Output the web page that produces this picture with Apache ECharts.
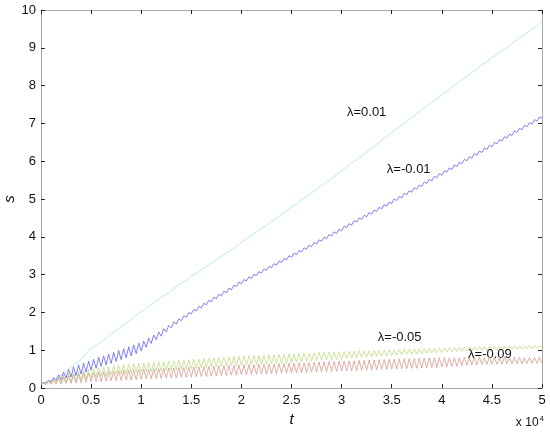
<!DOCTYPE html>
<html><head><meta charset="utf-8">
<script src="https://cdn.jsdelivr.net/npm/echarts@6/dist/echarts.min.js"></script>
<style>html,body{margin:0;padding:0;background:#fff}#c{width:550px;height:433px}</style>
</head><body><div id="c"></div>
<script>
// t in units of 10^4 (sample grid)
const tValues = [0,0.05,0.1,0.15,0.2,0.25,0.3,0.35,0.4,0.45,0.5,0.55,0.6,0.65,0.7,0.75,0.8,0.85,0.9,0.95,
1,1.05,1.1,1.15,1.2,1.25,1.3,1.35,1.4,1.45,1.5,1.55,1.6,1.65,1.7,1.75,1.8,1.85,1.9,1.95,
2,2.05,2.1,2.15,2.2,2.25,2.3,2.35,2.4,2.45,2.5,2.55,2.6,2.65,2.7,2.75,2.8,2.85,2.9,2.95,
3,3.05,3.1,3.15,3.2,3.25,3.3,3.35,3.4,3.45,3.5,3.55,3.6,3.65,3.7,3.75,3.8,3.85,3.9,3.95,
4,4.05,4.1,4.15,4.2,4.25,4.3,4.35,4.4,4.45,4.5,4.55,4.6,4.65,4.7,4.75,4.8,4.85,4.9,4.95,5];

// λ=0.01 (nearly smooth)
const sLam001 = [0.10,0.15,0.20,0.26,0.34,0.44,0.55,0.65,0.76,0.92,1.05,1.12,1.24,1.32,1.44,1.52,1.63,1.72,1.82,1.93,
2.02,2.10,2.22,2.30,2.40,2.48,2.58,2.68,2.77,2.85,2.96,3.03,3.13,3.22,3.30,3.40,3.48,3.58,3.66,3.76,
3.85,3.94,4.04,4.12,4.22,4.30,4.41,4.49,4.60,4.68,4.79,4.86,4.98,5.06,5.16,5.25,5.36,5.44,5.55,5.64,
5.75,5.84,5.95,6.04,6.15,6.24,6.35,6.44,6.55,6.65,6.76,6.85,6.96,7.05,7.16,7.25,7.36,7.45,7.56,7.65,
7.76,7.85,7.96,8.05,8.15,8.24,8.35,8.44,8.55,8.64,8.74,8.83,8.93,9.02,9.12,9.20,9.31,9.39,9.50,9.58,9.70];

// oscillating series: troughs at the grid t, peaks half-way between grid points
const sLamM001Low = [0.10,0.13,0.16,0.19,0.22,0.26,0.29,0.33,0.37,0.42,
0.47,0.52,0.57,0.61,0.65,0.70,0.75,0.80,0.85,0.91,
0.98,1.08,1.18,1.28,1.37,1.48,1.59,1.69,1.78,1.87,
1.96,2.04,2.12,2.20,2.28,2.36,2.44,2.52,2.60,2.68,
2.76,2.83,2.90,2.97,3.04,3.11,3.18,3.25,3.32,3.39,
3.46,3.53,3.60,3.67,3.74,3.81,3.88,3.95,4.02,4.09,
4.16,4.24,4.31,4.39,4.46,4.53,4.60,4.67,4.74,4.81,
4.88,4.96,5.03,5.11,5.18,5.26,5.33,5.41,5.48,5.56,
5.63,5.71,5.78,5.86,5.93,6.01,6.08,6.16,6.23,6.31,
6.38,6.46,6.53,6.61,6.68,6.76,6.83,6.91,6.98,7.06,7.14];
const sLamM001High = [0.15,0.21,0.28,0.35,0.42,0.49,0.56,0.61,0.66,0.71,
0.76,0.81,0.85,0.89,0.94,0.99,1.04,1.09,1.14,1.19,
1.24,1.32,1.40,1.48,1.57,1.66,1.75,1.83,1.91,2.00,
2.08,2.16,2.24,2.32,2.40,2.48,2.56,2.64,2.72,2.80,
2.87,2.94,3.01,3.08,3.15,3.22,3.29,3.36,3.43,3.50,
3.57,3.64,3.71,3.78,3.85,3.92,3.99,4.06,4.13,4.20,
4.28,4.35,4.43,4.50,4.57,4.64,4.71,4.78,4.85,4.92,
5.00,5.07,5.15,5.22,5.30,5.37,5.45,5.52,5.60,5.67,
5.75,5.82,5.90,5.97,6.05,6.12,6.20,6.27,6.35,6.42,
6.50,6.57,6.65,6.72,6.80,6.87,6.95,7.02,7.10,7.17];

const sLamM005Low = [0.10,0.11,0.13,0.14,0.15,0.16,0.17,0.19,0.21,0.24,
0.27,0.29,0.31,0.32,0.34,0.36,0.37,0.38,0.39,0.41,
0.42,0.42,0.43,0.44,0.45,0.46,0.47,0.48,0.49,0.50,
0.51,0.52,0.53,0.54,0.55,0.56,0.57,0.58,0.58,0.59,
0.60,0.61,0.61,0.62,0.62,0.63,0.64,0.64,0.65,0.65,
0.66,0.68,0.69,0.70,0.71,0.72,0.73,0.74,0.74,0.75,
0.76,0.78,0.79,0.80,0.81,0.82,0.83,0.84,0.84,0.85,
0.86,0.87,0.88,0.89,0.89,0.90,0.91,0.92,0.93,0.93,
0.94,0.95,0.96,0.97,0.97,0.98,0.98,0.99,0.99,1.00,
1.00,1.01,1.02,1.02,1.03,1.03,1.03,1.04,1.04,1.05,1.06];
const sLamM005High = [0.14,0.19,0.24,0.29,0.34,0.38,0.41,0.44,0.47,0.49,
0.51,0.53,0.55,0.57,0.59,0.60,0.62,0.63,0.64,0.65,
0.66,0.67,0.68,0.69,0.70,0.71,0.72,0.73,0.74,0.75,
0.76,0.77,0.78,0.79,0.80,0.81,0.82,0.82,0.83,0.84,
0.85,0.85,0.86,0.86,0.87,0.88,0.88,0.89,0.89,0.90,
0.90,0.91,0.92,0.92,0.93,0.94,0.94,0.95,0.95,0.96,
0.96,0.97,0.97,0.98,0.98,0.99,0.99,1.00,1.00,1.01,
1.01,1.02,1.02,1.03,1.03,1.04,1.04,1.05,1.05,1.06,
1.06,1.06,1.07,1.07,1.08,1.08,1.08,1.09,1.09,1.10,
1.10,1.10,1.11,1.11,1.11,1.12,1.12,1.12,1.13,1.13];

const sLamM009Low = [0.10,0.09,0.10,0.10,0.11,0.12,0.12,0.13,0.14,0.15,
0.16,0.17,0.17,0.18,0.19,0.20,0.20,0.21,0.21,0.22,
0.23,0.24,0.24,0.25,0.25,0.26,0.27,0.27,0.28,0.28,
0.29,0.30,0.30,0.31,0.31,0.32,0.33,0.33,0.34,0.34,
0.35,0.35,0.36,0.36,0.37,0.37,0.38,0.38,0.39,0.39,
0.40,0.40,0.41,0.41,0.42,0.42,0.43,0.43,0.44,0.44,
0.45,0.45,0.46,0.46,0.47,0.47,0.48,0.48,0.49,0.49,
0.50,0.50,0.51,0.51,0.52,0.52,0.53,0.53,0.54,0.54,
0.56,0.56,0.57,0.58,0.59,0.60,0.61,0.61,0.62,0.63,
0.63,0.63,0.63,0.64,0.64,0.64,0.64,0.65,0.65,0.65,0.65];
const sLamM009High = [0.13,0.17,0.21,0.25,0.29,0.32,0.35,0.37,0.39,0.40,
0.41,0.42,0.43,0.44,0.45,0.46,0.47,0.47,0.48,0.49,
0.50,0.50,0.51,0.51,0.52,0.53,0.53,0.54,0.54,0.55,
0.56,0.56,0.57,0.57,0.58,0.59,0.59,0.60,0.60,0.61,
0.61,0.62,0.62,0.63,0.63,0.64,0.64,0.65,0.65,0.66,
0.66,0.67,0.67,0.68,0.68,0.69,0.69,0.70,0.70,0.71,
0.71,0.72,0.72,0.73,0.73,0.74,0.74,0.75,0.75,0.76,
0.76,0.77,0.77,0.78,0.78,0.79,0.79,0.80,0.80,0.80,
0.80,0.80,0.80,0.80,0.81,0.80,0.81,0.81,0.80,0.81,
0.80,0.81,0.81,0.80,0.81,0.81,0.80,0.81,0.81,0.81];

const seriesNames = ['λ=0.01','λ=-0.01','λ=-0.05','λ=-0.09'];
const seriesColors = ['#a6e6ef','#6560e2','#c0da86','#d29c90'];
// label anchor positions (t [10^4], s)
const labelT = [3.25, 3.67, 3.58, 4.48];
const labelS = [7.29, 5.78, 1.33, 0.90];

function smoothData(vals) { return tValues.map((t, k) => [t, vals[k]]); }
function oscData(low, high) {
  const out = [];
  for (let k = 0; k < tValues.length; k++) {
    out.push([tValues[k], low[k]]);
    if (k < high.length) out.push([(tValues[k] + tValues[k + 1]) / 2, high[k]]);
  }
  return out;
}
const seriesData = [
  smoothData(sLam001),
  oscData(sLamM001Low, sLamM001High),
  oscData(sLamM005Low, sLamM005High),
  oscData(sLamM009Low, sLamM009High)
];

const font = 'Liberation Sans, Arial, sans-serif';
const chart = echarts.init(document.getElementById('c'), null, {renderer:'canvas'});

const series = seriesData.map((d, i) => ({
  name: seriesNames[i],
  type: 'line',
  xAxisIndex: 0, yAxisIndex: 0,
  data: d,
  showSymbol: false,
  symbol: 'none',
  lineStyle: {color: seriesColors[i], width: 0.8},
  z: 2 + i,
  animation: false,
  markPoint: {
    symbol: 'circle', symbolSize: 0,
    data: [{coord: [labelT[i], labelS[i]]}],
    label: {show: true, position: 'inside', formatter: seriesNames[i],
      color: '#111', fontSize: 13, fontFamily: font},
    animation: false
  }
}));

function tick() { return {show: true, inside: true, length: 4, lineStyle: {color: '#222', width: 1}}; }
function aline() { return {show: true, onZero: false, lineStyle: {color: '#a6a6a6', width: 1}}; }

chart.setOption({
  backgroundColor: '#fff',
  animation: false,
  grid: {left: 41, right: 8, top: 10, bottom: 45, containLabel: false, outerBoundsMode: 'none'},
  xAxis: [
    {type: 'value', min: 0, max: 5, interval: 0.5, position: 'bottom',
      axisLine: aline(), axisTick: tick(), splitLine: {show: false},
      axisLabel: {color: '#111', fontSize: 13, fontFamily: font, margin: 6,
        formatter: v => String(v)},
      name: 't', nameLocation: 'middle', nameGap: 24,
      nameTextStyle: {fontSize: 15, fontStyle: 'italic', fontFamily: font, color: '#111'}},
    {type: 'value', min: 0, max: 5, interval: 0.5, position: 'top',
      axisLine: aline(), axisTick: tick(), splitLine: {show: false},
      axisLabel: {show: false}}
  ],
  yAxis: [
    {type: 'value', min: 0, max: 10, interval: 1, position: 'left',
      axisLine: aline(), axisTick: tick(), splitLine: {show: false},
      axisLabel: {color: '#111', fontSize: 13, fontFamily: font, margin: 5},
      name: 's', nameLocation: 'middle', nameGap: 24, nameRotate: 90, nameMoveOverlap: false,
      nameTextStyle: {fontSize: 15, fontStyle: 'italic', fontFamily: font, color: '#111'}},
    {type: 'value', min: 0, max: 10, interval: 1, position: 'right',
      axisLine: aline(), axisTick: tick(), splitLine: {show: false},
      axisLabel: {show: false}}
  ],
  graphic: [{
    type: 'text', right: 6, bottom: 4,
    style: {
      text: '{a|x 10}{b|4}',
      rich: {
        a: {fontSize: 12, fontFamily: font, fill: '#111'},
        b: {fontSize: 8, fontFamily: font, fill: '#111', verticalAlign: 'top', padding: [0,0,8,1]}
      }
    }
  }],
  series: series
});
</script>
</body></html>
